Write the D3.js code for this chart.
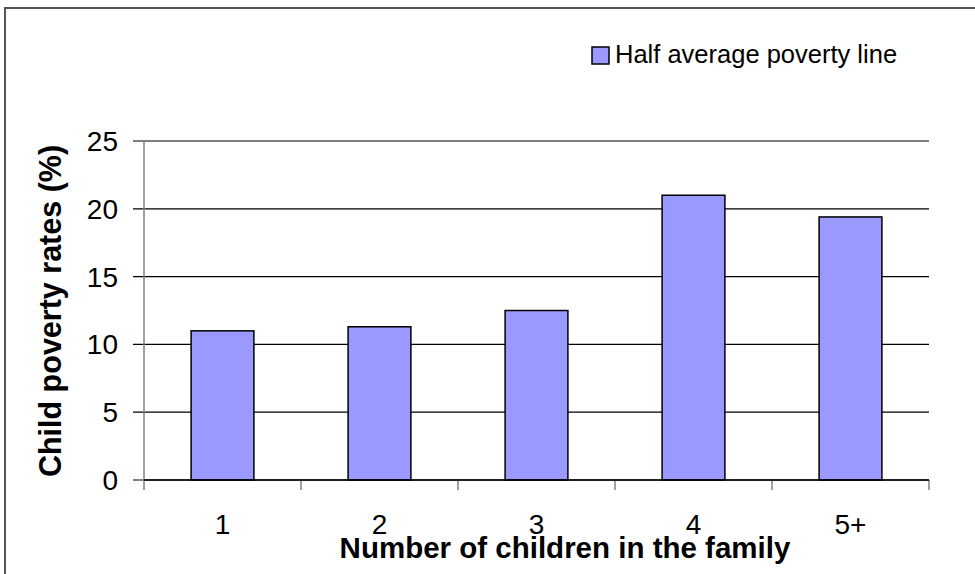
<!DOCTYPE html>
<html>
<head>
<meta charset="utf-8">
<script src="https://d3js.org/d3.v7.min.js"></script>
<style>
  body { margin: 0; background: white; }
  text { font-family: "Liberation Sans", Arial, sans-serif; }
</style>
</head>
<body>
<script>
  // data
  const categories = ["1", "2", "3", "4", "5+"];
  const rates = [11.0, 11.3, 12.5, 21.0, 19.4];
  const yTicks = [0, 5, 10, 15, 20, 25];
  const seriesName = "Half average poverty line";

  const width = 975, height = 574;
  const plot = { left: 144, right: 929, top: 141, bottom: 480 };

  const svg = d3.select("body")
    .append("svg")
    .attr("width", width)
    .attr("height", height);

  // outer frame
  svg.append("rect")
    .attr("x", 5)
    .attr("y", 8)
    .attr("width", width)
    .attr("height", height)
    .attr("fill", "white")
    .attr("stroke", "#555")
    .attr("stroke-width", 2);

  const x = d3.scaleBand()
    .domain(categories)
    .range([plot.left, plot.right])
    .paddingInner(0.6)
    .paddingOuter(0.3);

  const y = d3.scaleLinear()
    .domain([0, 25])
    .range([plot.bottom, plot.top]);

  // gridlines + y ticks
  svg.append("g")
    .selectAll("line")
    .data(yTicks)
    .join("line")
    .attr("x1", plot.left - 11)
    .attr("x2", plot.right)
    .attr("y1", d => y(d))
    .attr("y2", d => y(d))
    .attr("stroke", "black")
    .attr("stroke-width", 1.2);

  svg.append("g")
    .selectAll("text")
    .data(yTicks)
    .join("text")
    .attr("x", 118)
    .attr("y", d => y(d))
    .attr("dy", "0.36em")
    .attr("text-anchor", "end")
    .style("font-size", "28px")
    .text(d => d);

  // y axis line
  svg.append("line")
    .attr("x1", plot.left)
    .attr("x2", plot.left)
    .attr("y1", plot.top)
    .attr("y2", plot.bottom + 10)
    .attr("stroke", "#808080")
    .attr("stroke-width", 1.5);

  // x axis ticks at band boundaries
  const step = x.step();
  const bounds = categories.map((c, i) => plot.left + step * (i + 1));
  svg.append("g")
    .selectAll("line")
    .data(bounds)
    .join("line")
    .attr("x1", d => d)
    .attr("x2", d => d)
    .attr("y1", plot.bottom)
    .attr("y2", plot.bottom + 10)
    .attr("stroke", "#808080")
    .attr("stroke-width", 1.5);

  // bars
  svg.append("g")
    .selectAll("rect")
    .data(rates)
    .join("rect")
    .attr("x", (d, i) => x(categories[i]))
    .attr("y", d => y(d))
    .attr("width", x.bandwidth())
    .attr("height", d => y(0) - y(d))
    .attr("fill", "#9999FF")
    .attr("stroke", "black")
    .attr("stroke-width", 1.5);

  // x axis line on top
  svg.append("line")
    .attr("x1", plot.left)
    .attr("x2", plot.right)
    .attr("y1", plot.bottom)
    .attr("y2", plot.bottom)
    .attr("stroke", "black")
    .attr("stroke-width", 1.5);

  // x tick labels
  svg.append("g")
    .selectAll("text")
    .data(categories)
    .join("text")
    .attr("x", d => x(d) + x.bandwidth() / 2)
    .attr("y", 534)
    .attr("text-anchor", "middle")
    .style("font-size", "28px")
    .text(d => d);

  // axis titles
  svg.append("text")
    .attr("x", 565)
    .attr("y", 558)
    .attr("text-anchor", "middle")
    .attr("font-weight", 700)
    .style("font-size", "29.5px")
    .text("Number of children in the family");

  svg.append("text")
    .attr("transform", "translate(61, 311) rotate(-90)")
    .attr("text-anchor", "middle")
    .attr("font-weight", 700)
    .style("font-size", "30.5px")
    .text("Child poverty rates (%)");

  // legend
  svg.append("rect")
    .attr("x", 592)
    .attr("y", 47)
    .attr("width", 17)
    .attr("height", 17)
    .attr("fill", "#9999FF")
    .attr("stroke", "black")
    .attr("stroke-width", 1.5);

  svg.append("text")
    .attr("x", 615)
    .attr("y", 63)
    .style("font-size", "25.5px")
    .text(seriesName);
</script>
</body>
</html>
